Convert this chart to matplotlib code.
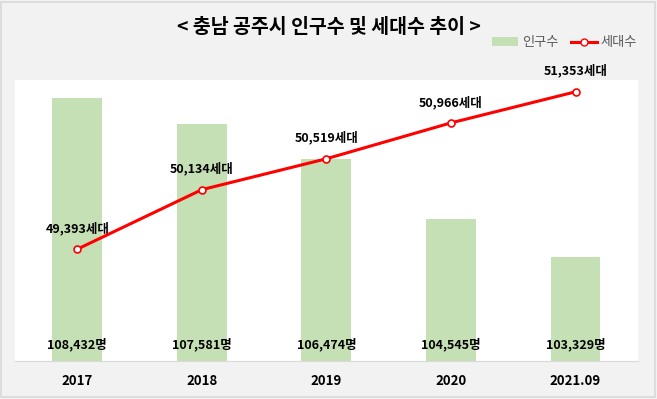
import matplotlib.pyplot as plt
from matplotlib.patches import Rectangle
from matplotlib.lines import Line2D
from matplotlib.patches import Patch

plt.rcParams["font.family"] = ["Noto Sans CJK KR", "DejaVu Sans"]

years = ["2017", "2018", "2019", "2020", "2021.09"]
population = [108432, 107581, 106474, 104545, 103329]
households = [49393, 50134, 50519, 50966, 51353]

bar_color = "#c5e0b4"
line_color = "#ff0000"

fig = plt.figure(figsize=(6.57, 3.99), dpi=100)
fig.patch.set_facecolor("#f2f2f2")
fig.patches.append(Rectangle((0.002, 0.004), 0.995, 0.992, transform=fig.transFigure,
                             fill=False, edgecolor="#d9d9d9", linewidth=1.2))

ax = fig.add_axes([0.0228, 0.0952, 0.948, 0.7043])
ax.set_facecolor("white")
x = list(range(len(years)))
ax.bar(x, population, width=0.4, color=bar_color, zorder=2)
ax.set_xlim(-0.5, len(years) - 0.5)
ax.set_ylim(100000, 109000)
ax.set_yticks([])
ax.set_xticks(x)
ax.set_xticklabels(years, fontsize=9.5, fontweight="bold")
ax.tick_params(axis="x", length=0, pad=9)
for s in ["top", "left", "right"]:
    ax.spines[s].set_visible(False)
ax.spines["bottom"].set_color("#d9d9d9")

# population labels near the bottom of the bars
for xi, v in zip(x, population):
    ax.text(xi, 0.06, f"{v:,}명", transform=ax.get_xaxis_transform(),
            ha="center", va="center", fontsize=9, fontweight="bold", zorder=5)

ax2 = ax.twinx()
ax2.plot(x, households, color=line_color, linewidth=2.2, marker="o", markersize=5,
         markerfacecolor="white", markeredgecolor=line_color, markeredgewidth=1.2, zorder=4)
ax2.set_ylim(48000, 51500)
ax2.set_yticks([])
for s in ["top", "left", "right", "bottom"]:
    ax2.spines[s].set_visible(False)

for xi, v in zip(x, households):
    ax2.annotate(f"{v:,}세대", (xi, v), xytext=(0, 15), textcoords="offset points",
                 ha="center", va="center", fontsize=9, fontweight="bold", annotation_clip=False)

fig.text(0.5, 0.93, "< 충남 공주시 인구수 및 세대수 추이 >", ha="center", va="center",
         fontsize=14, fontweight="bold")

handles = [Patch(facecolor=bar_color, edgecolor="none"),
           Line2D([0], [0], color=line_color, linewidth=2.2, marker="o", markersize=5,
                  markerfacecolor="white", markeredgecolor=line_color)]
fig.legend(handles, ["인구수", "세대수"], loc="center right", bbox_to_anchor=(0.978, 0.893),
           ncol=2, frameon=False, fontsize=9.5, labelcolor="#595959", handlelength=2.0,
           handleheight=0.6, handletextpad=0.3, columnspacing=0.9, borderaxespad=0)

fig.savefig("out.png", dpi=100, facecolor=fig.get_facecolor())
